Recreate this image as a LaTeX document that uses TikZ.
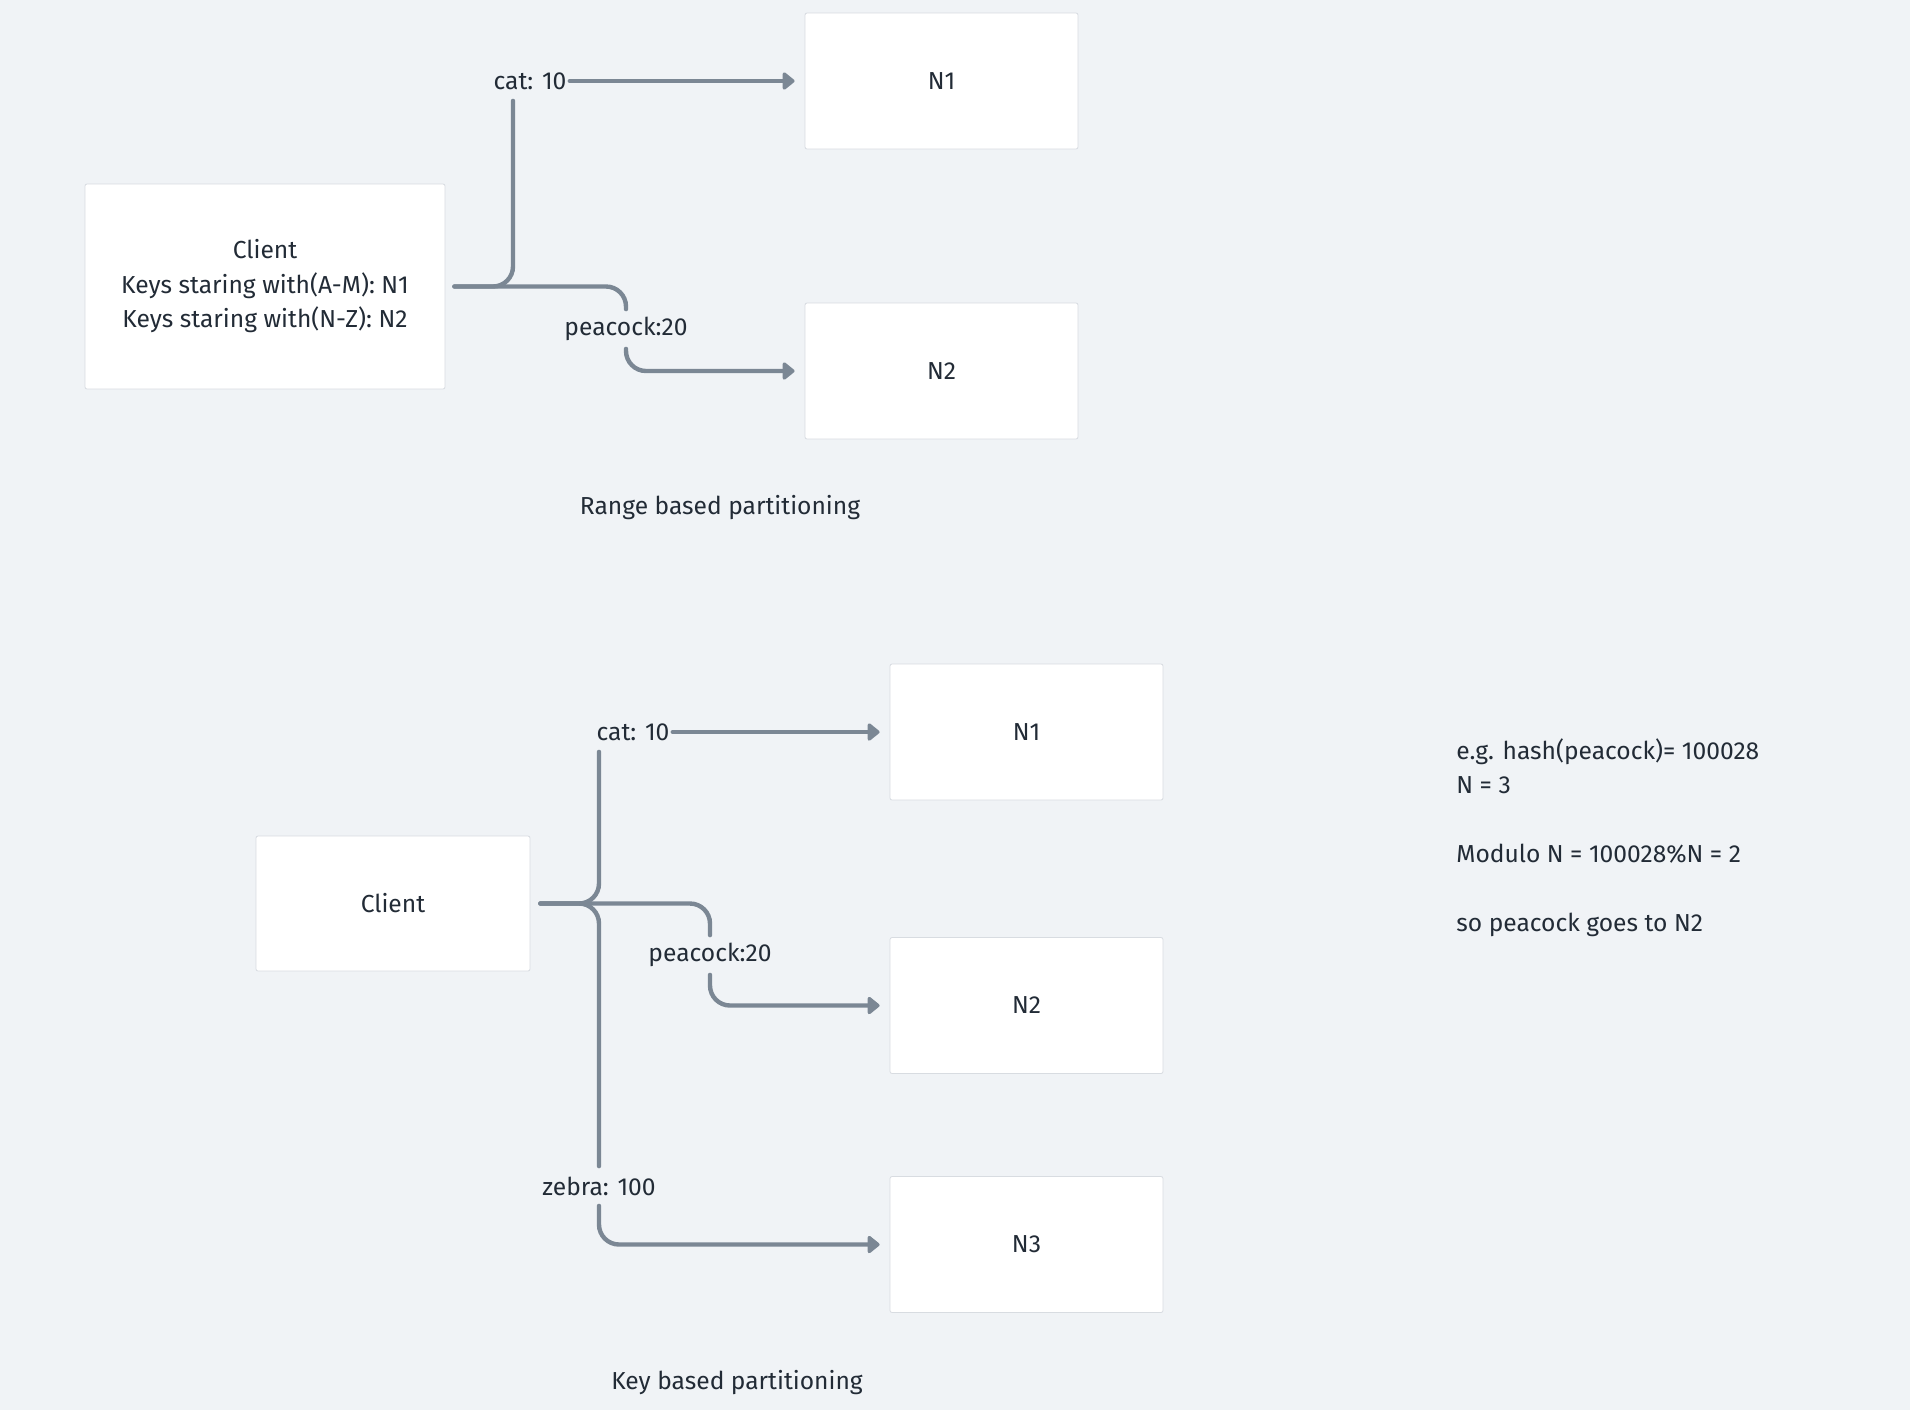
\documentclass[tikz,border=0pt]{standalone}
\usepackage{fontspec}
\setmainfont{Fira Sans}
\usetikzlibrary{arrows.meta}
\definecolor{bgcol}{HTML}{F0F3F6}
\definecolor{linkcol}{HTML}{7B8794}
\definecolor{txtcol}{HTML}{222B36}
\definecolor{edgecol}{HTML}{D8DCE1}

\begin{document}
\begin{tikzpicture}[x=0.5pt,y=-0.5pt,
    font=\fontsize{12.3}{17.25}\selectfont,text=txtcol,
    server/.style={draw=edgecol,line width=0.4pt,fill=white,rounded corners=1pt,
        minimum width=136.5pt,minimum height=68pt},
    keylbl/.style={inner xsep=1.5pt,inner ysep=0pt,minimum height=19.5pt},
    link/.style={draw=linkcol,line width=2.2pt,line cap=round,rounded corners=10pt},
    send/.style={link,-{Triangle[length=6.5pt,width=10pt,round]}}]
    \useasboundingbox[fill=bgcol] (0,0) rectangle (1910,1410);

    \node[server,minimum width=180pt,minimum height=102.5pt,align=center] (client1) at (265,286.5)
        {Client\\Keys staring with(A-M): N1\\Keys staring with(N-Z): N2};
    \node[server] (n1a) at (941.5,81) {N1};
    \node[server] (n2a) at (941.5,371) {N2};
    \node[keylbl] (cat1) at (530,81) {cat: 10};
    \node[keylbl] (peacock1) at (626,329) {peacock:20};
    \node (range) at (720,508) {Range based partitioning};
    \coordinate (jt) at (513,286.5);
    \draw[link] ([xshift=4.5pt]client1.east) -| (jt |- cat1.south);
    \draw[link] ([xshift=4.5pt]client1.east) -| (peacock1.north);
    \draw[send] (cat1.east) -- ([xshift=-5pt]n1a.west);
    \draw[send] (peacock1.south) |- ([xshift=-5pt]n2a.west);

    \node[server,minimum width=137pt,minimum height=67.5pt] (client2) at (393,903.5) {Client};
    \node[server] (n1b) at (1026.5,732) {N1};
    \node[server] (n2b) at (1026.5,1005.5) {N2};
    \node[server] (n3b) at (1026.5,1244.5) {N3};
    \node[keylbl] (cat2) at (633,732) {cat: 10};
    \node[keylbl] (peacock2) at (710,955) {peacock:20};
    \node[keylbl] (zebra) at (599,1186) {zebra: 100};
    \node (keybased) at (737,1382) {Key based partitioning};
    \coordinate (jb) at (599,903.5);
    \draw[link] ([xshift=5pt]client2.east) -| (jb |- cat2.south);
    \draw[link] ([xshift=5pt]client2.east) -| (peacock2.north);
    \draw[link] ([xshift=5pt]client2.east) -| (zebra.north);
    \draw[send] (cat2.east) -- ([xshift=-5pt]n1b.west);
    \draw[send] (peacock2.south) |- ([xshift=-5pt]n2b.west);
    \draw[send] (zebra.south) |- ([xshift=-5pt]n3b.west);

    \node[anchor=north west,inner sep=0pt,align=left] (note) at (1456,738)
        {e.g. hash(peacock)= 100028\\N = 3\\[17.25pt]Modulo N = 100028\%N = 2\\[17.25pt]so peacock goes to N2};
\end{tikzpicture}
\end{document}
